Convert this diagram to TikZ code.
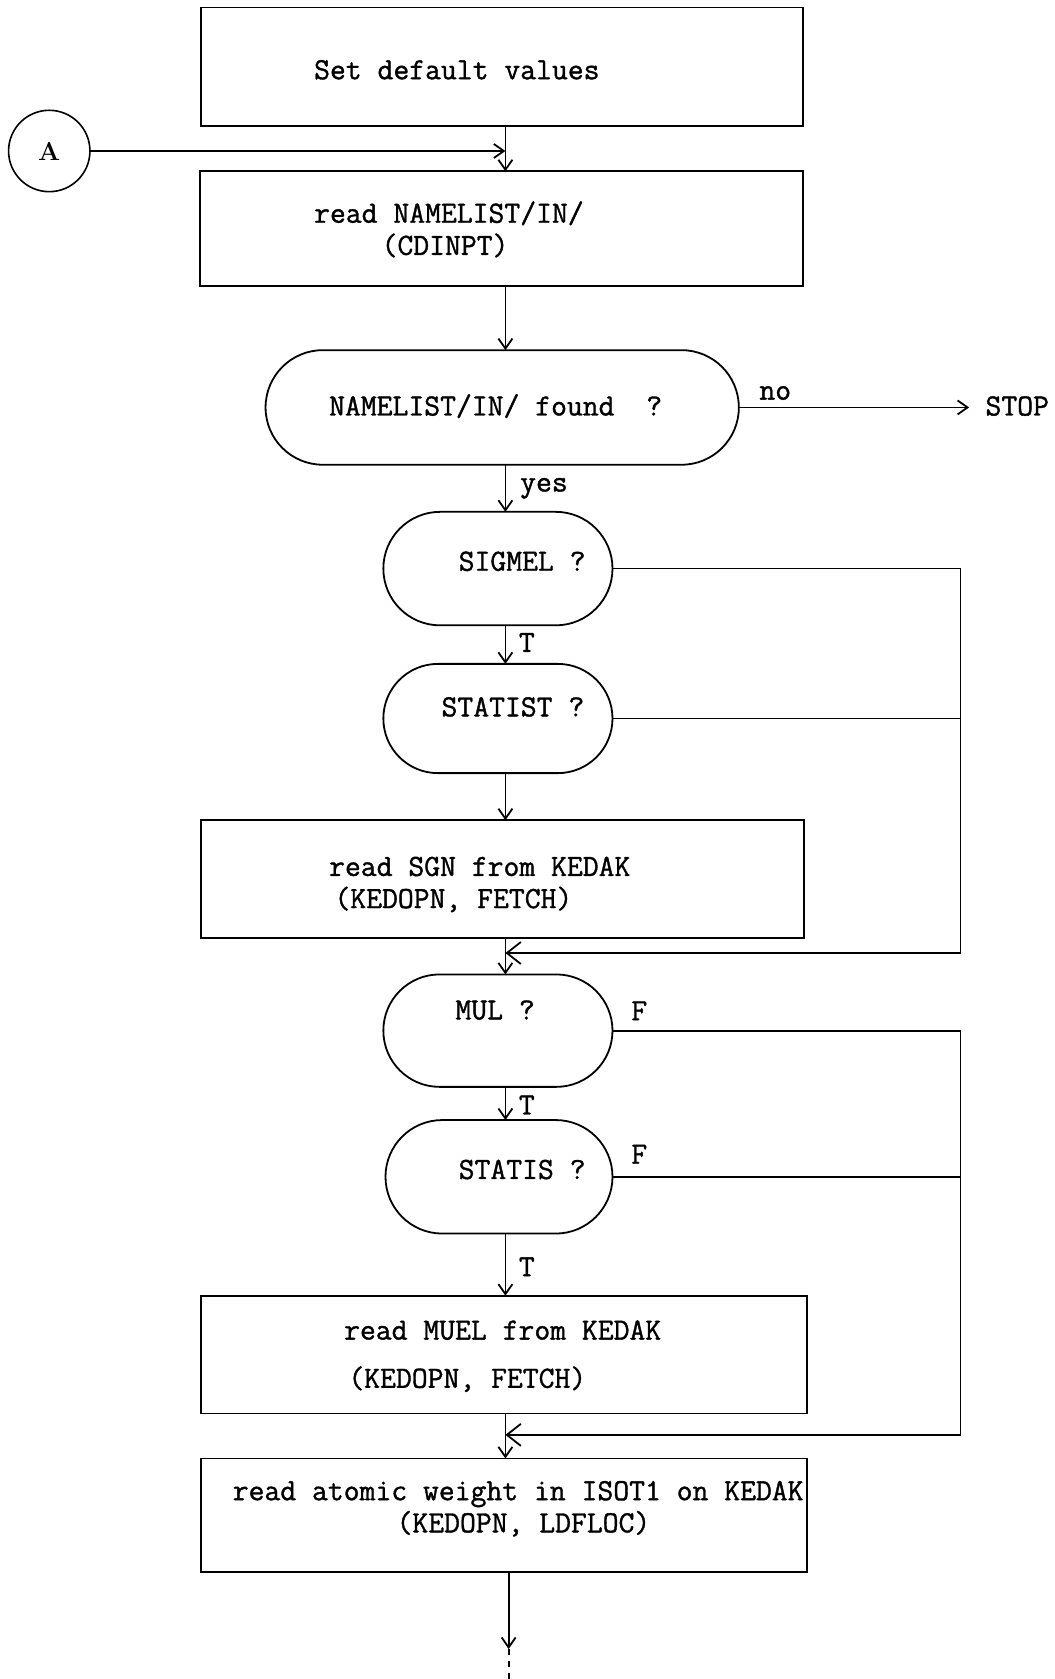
\documentclass[tikz,border=0pt]{standalone}
\usepackage{fontspec}
\newfontfamily\twfont{Latin Modern Mono}[FakeBold=1.2]
\usetikzlibrary{shapes.misc,arrows.meta}
\newcommand{\pxu}{0.5356pt}
\begin{document}
\begin{tikzpicture}[x=0.5356pt,y=-0.5356pt,
  box/.style={draw, rectangle, line width=0.9pt, inner sep=0pt, outer sep=0pt},
  term/.style={draw, rounded rectangle, line width=0.9pt, inner sep=0pt, outer sep=0pt},
  conn/.style={draw, circle, line width=0.8pt, inner sep=0pt, outer sep=0pt,
    font=\bfseries\fontsize{13}{15}\selectfont},
  txt/.style={anchor=base west, inner sep=0pt, font=\twfont\fontsize{15.4}{18}\selectfont},
  lbl/.style={anchor=center, inner sep=0pt, font=\twfont\fontsize{15.4}{18}\selectfont},
  wire/.style={line width=0.9pt},
  flow/.style={line width=0.9pt, -{Straight Barb[length=5pt,width=7pt]}},
  merge/.style={line width=0.9pt, -{Straight Barb[length=7pt,width=11pt]}}]
\useasboundingbox (0,0) rectangle (985,1568);

% flow chart shapes
\node[box, minimum width=562*\pxu, minimum height=111*\pxu] (set) at (469,62.5) {};
\node[conn, minimum size=76*\pxu] (cA) at (46,141) {A};
\node[box, minimum width=563*\pxu, minimum height=107*\pxu] (rdn) at (468.5,213.5) {};
\node[term, minimum width=442*\pxu, minimum height=107*\pxu] (fnd) at (469,380.5) {};
\node[term, minimum width=214*\pxu, minimum height=106*\pxu] (sig) at (465,531) {};
\node[term, minimum width=214*\pxu, minimum height=102*\pxu] (stt) at (465,671) {};
\node[box, minimum width=563*\pxu, minimum height=110*\pxu] (sgn) at (469.5,821) {};
\node[term, minimum width=214*\pxu, minimum height=105*\pxu] (mul) at (465,962.5) {};
\node[term, minimum width=212*\pxu, minimum height=106*\pxu] (sts) at (466,1099) {};
\node[box, minimum width=566*\pxu, minimum height=110*\pxu] (mue) at (471,1265) {};
\node[box, minimum width=566*\pxu, minimum height=106*\pxu] (atw) at (471,1415) {};

% texts inside the shapes
\node[txt] (t1) at (293,74) {Set default values};
\node[txt] (t2a) at (293,208) {read NAMELIST/IN/};
\node[txt] (t2b) at (356,238) {(CDINPT)};
\node[txt] (t3) at (307,388) {NAMELIST/IN/ found\ \ ?};
\node[txt] (t4) at (428,533) {SIGMEL ?};
\node[txt] (t5) at (412,669) {STATIST ?};
\node[txt] (t6a) at (307,818) {read SGN from KEDAK};
\node[txt] (t6b) at (312,848) {(KEDOPN, FETCH)};
\node[txt] (t7) at (425,952) {MUL ?};
\node[txt] (t8) at (428,1101) {STATIS ?};
\node[txt] (t9a) at (321,1251) {read MUEL from KEDAK};
\node[txt] (t9b) at (325,1296) {(KEDOPN, FETCH)};
\node[txt] (t10a) at (217,1401) {read atomic weight in ISOT1 on KEDAK};
\node[txt] (t10b) at (370,1431) {(KEDOPN, LDFLOC)};
\node[txt] (stop) at (920,388) {STOP};

% branch labels
\node[lbl] (lno) at (724,367) {no};
\node[lbl] (lyes) at (508,456) {yes};
\node[lbl] (lt1) at (492,600) {T};
\node[lbl] (lf1) at (597,944) {F};
\node[lbl] (lt2) at (492,1032) {T};
\node[lbl] (lf2) at (597,1078) {F};
\node[lbl] (lt3) at (492,1183) {T};

% guide coordinates: main axis, return bus, merge points, continuation
\coordinate (ax) at (472,0);
\coordinate (ax2) at (475,0);
\coordinate (bus) at (897,0);
\coordinate (j1) at (0,890);
\coordinate (j2) at (0,1340);
\coordinate (tip) at (0,1540);
\coordinate (cend) at (475,1568);

% main flow
\draw[flow] (set.south -| ax) -- (rdn.north -| ax);
\draw[flow] (cA.east) -- (cA.east -| ax);
\draw[flow] (rdn.south -| ax) -- (fnd.north -| ax);
\draw[flow, shorten >=8pt] (fnd.east) -- (fnd.east -| stop.west);
\draw[flow] (fnd.south -| ax) -- (sig.north -| ax);
\draw[flow] (sig.south -| ax) -- (stt.north -| ax);
\draw[flow] (stt.south -| ax) -- (sgn.north -| ax);

% bypass of SGN reading
\draw[wire] (sig.east) -- (sig.east -| bus) -- (bus |- j1);
\draw[wire] (stt.east) -- (stt.east -| bus);
\draw[merge] (bus |- j1) -- (ax |- j1);
\draw[flow] (sgn.south -| ax) -- (mul.north -| ax);
\draw[flow] (mul.south -| ax) -- (sts.north -| ax);
\draw[flow] (sts.south -| ax) -- (mue.north -| ax);

% bypass of MUEL reading
\draw[wire] (mul.east) -- (mul.east -| bus) -- (bus |- j2);
\draw[wire] (sts.east) -- (sts.east -| bus);
\draw[merge] (bus |- j2) -- (ax |- j2);
\draw[flow] (mue.south -| ax) -- (atw.north -| ax);

% continuation
\draw[flow] (atw.south -| ax2) -- (ax2 |- tip);
\draw[wire, dashed] (ax2 |- tip) -- (cend);
\end{tikzpicture}
\end{document}
